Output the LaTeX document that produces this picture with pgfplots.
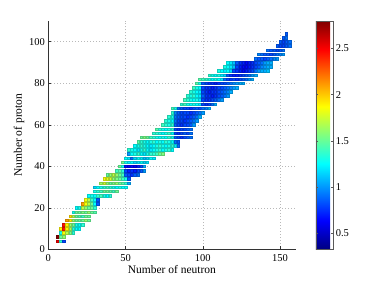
\documentclass[border=0pt]{standalone}
\usepackage{fontspec}
\setmainfont{Liberation Serif}
\usepackage{pgfplots}
\pgfplotsset{compat=1.18}
\begin{document}
\begin{tikzpicture}
\path[use as bounding box] (-48.3pt,-31.7pt) rectangle (325.7pt,249.3pt);
\begin{axis}[
  at={(0pt,0pt)}, anchor=south west,
  scale only axis, width=247.2pt, height=228.4pt,
  xmin=0, xmax=160, ymin=0, ymax=110,
  xtick={0,50,100,150}, ytick={0,20,40,60,80,100},
  axis x line*=bottom, axis y line*=left,
  axis line style={black!80, line width=0.5pt},
  tick align=inside, major tick length=3pt,
  tick style={black!80, line width=0.4pt},
  grid=major,
  grid style={gray!55, line width=0.4pt, dash pattern=on 0.8pt off 2.2pt},
  /pgf/number format/assume math mode=true,
  tick label style={font=\fontsize{10.5}{12}\selectfont},
  xticklabel style={yshift=-1.5pt},
  label style={font=\fontsize{11.5}{13}\selectfont},
  xlabel={Number of neutron}, ylabel={Number of proton},
  xlabel style={at={(axis description cs:0.5,-0.089)}, anchor=center},
  ylabel style={at={(axis description cs:-0.118,0.5)}, anchor=center, rotate=0},
  colormap/jet,
  point meta min=0.32, point meta max=2.8,
  colorbar,
  colorbar style={
    at={(parent axis.north east)}, anchor=north west, xshift=11.8pt,
    scale only axis, width=17.4pt, height=228.4pt,
    ytick={0.5,1,1.5,2,2.5},
    ytick pos=both, yticklabel pos=right,
    tick align=inside, major tick length=2.5pt,
    axis line style={black!65, line width=0.5pt},
    tick style={black!65},
    /pgf/number format/assume math mode=true,
    yticklabel style={font=\fontsize{10.5}{12}\selectfont, xshift=-1pt},
  },
]
\addplot[scatter, only marks, mark=square*, mark size=1.3pt,
  mark options={line width=0.1pt},
  point meta=explicit] coordinates {
(6,4)[2.55] (8,4)[1.35] (10,4)[0.8]
(6,6)[2.8] (8,6)[1.5] (10,6)[1.6]
(8,8)[1.3] (10,8)[1.85] (12,8)[1.7] (14,8)[1.55] (16,8)[1.35]
(8,10)[1.9] (10,10)[2.45] (12,10)[1.9] (14,10)[1.65] (16,10)[1.35] (18,10)[1.25] (20,10)[1.25]
(10,12)[2.45] (12,12)[1.9] (14,12)[1.6] (16,12)[1.5] (18,12)[1.3] (20,12)[1.25] (22,12)[1.35]
(12,14)[2.1] (14,14)[1.9] (16,14)[1.6] (18,14)[1.5] (20,14)[1.5] (22,14)[1.5] (24,14)[1.6] (26,14)[1.5]
(14,16)[1.95] (16,16)[1.65] (18,16)[1.5] (20,16)[1.45] (22,16)[1.4] (24,16)[1.5] (26,16)[1.5]
(16,18)[1.3] (18,18)[1.5] (20,18)[1.5] (22,18)[1.55] (24,18)[1.5] (26,18)[1.6] (28,18)[1.5] (30,18)[1.45]
(18,20)[1.25] (20,20)[1.3] (22,20)[1.7] (24,20)[1.6] (26,20)[1.5] (28,20)[1.5] (30,20)[1.35]
(22,22)[2.1] (24,22)[1.85] (26,22)[1.7] (28,22)[1.5] (30,22)[1.25] (32,22)[0.85]
(24,24)[1.85] (26,24)[1.7] (28,24)[1.4] (30,24)[1.25] (32,24)[0.85]
(26,26)[1.25] (28,26)[1.3] (30,26)[1.25] (32,26)[1.35] (34,26)[1.4] (36,26)[1.3] (38,26)[1.25] (40,26)[1.35]
(30,28)[1.3] (32,28)[1.35] (34,28)[1.4] (36,28)[1.5] (38,28)[1.5] (40,28)[1.45] (42,28)[1.4] (44,28)[1.5]
(30,30)[1.15] (32,30)[1.25] (34,30)[1.3] (36,30)[1.35] (38,30)[1.4] (40,30)[1.35] (42,30)[1.3] (44,30)[1.25] (46,30)[1.3] (48,30)[1.25] (50,30)[1.25]
(34,32)[1.65] (36,32)[1.75] (38,32)[1.6] (40,32)[1.5] (42,32)[1.55] (44,32)[1.6] (46,32)[1.5] (48,32)[1.45] (50,32)[1.35] (52,32)[1.05]
(36,34)[1.85] (38,34)[1.8] (40,34)[1.75] (42,34)[1.6] (44,34)[1.55] (46,34)[1.5] (48,34)[1.4] (50,34)[1.3] (52,34)[0.85]
(38,36)[1.5] (40,36)[1.6] (42,36)[1.7] (44,36)[1.6] (46,36)[1.5] (48,36)[1.4] (50,36)[0.85] (52,36)[0.8] (54,36)[0.75] (56,36)[0.85] (58,36)[0.9]
(44,38)[1.4] (46,38)[1.45] (48,38)[1.35] (50,38)[0.8] (52,38)[0.7] (54,38)[0.75] (56,38)[0.7] (58,38)[0.8] (60,38)[0.85] (62,38)[1.0]
(46,40)[1.5] (48,40)[1.3] (50,40)[0.65] (52,40)[0.6] (54,40)[0.65] (56,40)[0.6] (58,40)[0.7] (60,40)[0.8] (62,40)[1.05]
(48,42)[1.5] (50,42)[1.3] (52,42)[1.2] (54,42)[1.25] (56,42)[1.15] (58,42)[1.2] (60,42)[1.25] (62,42)[1.15] (64,42)[1.2]
(50,44)[1.25] (52,44)[1.2] (54,44)[0.9] (56,44)[1.15] (58,44)[1.25] (60,44)[1.2] (62,44)[1.1] (64,44)[1.15] (66,44)[1.25] (68,44)[1.2]
(52,46)[1.0] (54,46)[1.25] (56,46)[1.3] (58,46)[1.35] (60,46)[1.25] (62,46)[1.2] (64,46)[1.3] (66,46)[1.35] (68,46)[1.35] (70,46)[1.4] (72,46)[1.5] (74,46)[1.55]
(52,48)[1.35] (54,48)[1.3] (56,48)[1.25] (58,48)[1.2] (60,48)[1.3] (62,48)[1.35] (64,48)[1.25] (66,48)[1.2] (68,48)[1.25] (70,48)[1.3] (72,48)[1.35] (74,48)[1.25] (76,48)[1.3] (78,48)[1.35] (80,48)[1.25]
(56,50)[1.25] (58,50)[1.3] (60,50)[1.35] (62,50)[1.3] (64,50)[1.25] (66,50)[1.2] (68,50)[1.25] (70,50)[1.3] (72,50)[1.35] (74,50)[1.3] (76,50)[1.25] (78,50)[1.3] (80,50)[1.35] (82,50)[1.2] (84,50)[0.9]
(58,52)[1.45] (60,52)[1.35] (62,52)[1.3] (64,52)[1.25] (66,52)[1.3] (68,52)[1.35] (70,52)[1.25] (72,52)[1.3] (74,52)[1.25] (76,52)[1.35] (78,52)[1.3] (80,52)[1.25] (82,52)[0.9] (84,52)[0.85]
(60,54)[1.5] (62,54)[1.55] (64,54)[1.5] (66,54)[1.4] (68,54)[1.35] (70,54)[1.3] (72,54)[1.25] (74,54)[1.3] (76,54)[1.25] (78,54)[1.35] (80,54)[1.3] (82,54)[0.85] (84,54)[0.8] (86,54)[0.75] (88,54)[0.8] (90,54)[0.85] (92,54)[0.9]
(68,56)[1.35] (70,56)[1.35] (72,56)[1.3] (74,56)[1.25] (76,56)[1.3] (78,56)[1.35] (80,56)[1.25] (82,56)[0.8] (84,56)[0.75] (86,56)[0.8] (88,56)[0.85] (90,56)[0.8] (92,56)[0.9]
(70,58)[1.45] (72,58)[1.35] (74,58)[1.3] (76,58)[1.25] (78,58)[1.3] (80,58)[1.35] (82,58)[0.8] (84,58)[0.75] (86,58)[0.8] (88,58)[0.8] (90,58)[0.85] (92,58)[0.9]
(74,60)[1.4] (76,60)[1.35] (78,60)[1.3] (80,60)[1.35] (82,60)[0.85] (84,60)[0.8] (86,60)[0.75] (88,60)[0.8] (90,60)[0.8] (92,60)[0.85] (94,60)[1.0]
(76,62)[1.35] (78,62)[1.3] (80,62)[1.25] (82,62)[0.9] (84,62)[0.8] (86,62)[0.8] (88,62)[0.75] (90,62)[0.8] (92,62)[0.85] (94,62)[0.9] (96,62)[1.0]
(78,64)[1.35] (80,64)[1.3] (82,64)[0.9] (84,64)[0.85] (86,64)[0.8] (88,64)[0.8] (90,64)[0.75] (92,64)[0.8] (94,64)[0.85] (96,64)[0.9] (98,64)[1.05]
(80,66)[1.35] (82,66)[0.95] (84,66)[0.85] (86,66)[0.8] (88,66)[0.8] (90,66)[0.8] (92,66)[0.75] (94,66)[0.8] (96,66)[0.85] (98,66)[0.9] (100,66)[1.0]
(80,68)[1.4] (82,68)[1.3] (84,68)[0.9] (86,68)[0.85] (88,68)[0.8] (90,68)[0.8] (92,68)[0.75] (94,68)[0.8] (96,68)[0.85] (98,68)[0.8] (100,68)[0.9] (102,68)[0.95] (104,68)[1.05]
(86,70)[1.35] (88,70)[1.4] (90,70)[1.3] (92,70)[1.25] (94,70)[1.3] (96,70)[1.25] (98,70)[1.2] (100,70)[0.8] (102,70)[0.75] (104,70)[0.8] (106,70)[0.9] (108,70)[1.05]
(88,72)[1.4] (90,72)[1.35] (92,72)[1.3] (94,72)[1.25] (96,72)[1.3] (98,72)[1.2] (100,72)[0.8] (102,72)[0.75] (104,72)[0.75] (106,72)[0.8] (108,72)[0.85] (110,72)[0.9] (112,72)[1.0]
(90,74)[1.35] (92,74)[1.3] (94,74)[1.35] (96,74)[1.25] (98,74)[1.2] (100,74)[0.85] (102,74)[0.75] (104,74)[0.75] (106,74)[0.7] (108,74)[0.75] (110,74)[0.8] (112,74)[0.85] (114,74)[0.9] (116,74)[1.0]
(92,76)[1.35] (94,76)[1.3] (96,76)[1.25] (98,76)[1.2] (100,76)[0.8] (102,76)[0.75] (104,76)[0.7] (106,76)[0.75] (108,76)[0.75] (110,76)[0.8] (112,76)[0.85] (114,76)[0.9] (116,76)[0.95] (118,76)[1.05]
(94,78)[1.4] (96,78)[1.3] (98,78)[1.25] (100,78)[0.8] (102,78)[0.75] (104,78)[0.75] (106,78)[0.7] (108,78)[0.75] (110,78)[0.8] (112,78)[0.8] (114,78)[0.85] (116,78)[0.9] (118,78)[0.95] (120,78)[1.0] (122,78)[1.05]
(96,80)[1.45] (98,80)[1.3] (100,80)[0.85] (102,80)[0.8] (104,80)[0.75] (106,80)[0.75] (108,80)[0.7] (110,80)[0.75] (112,80)[0.8] (114,80)[0.8] (116,80)[0.85] (118,80)[0.9] (120,80)[0.95] (122,80)[1.0] (124,80)[1.05] (126,80)[1.05]
(98,82)[1.45] (100,82)[1.4] (102,82)[1.35] (104,82)[1.3] (106,82)[1.25] (108,82)[1.3] (110,82)[1.25] (112,82)[1.2] (114,82)[0.9] (116,82)[0.8] (118,82)[0.75] (120,82)[0.8] (122,82)[0.75] (124,82)[0.8] (126,82)[0.85] (128,82)[0.9] (130,82)[1.0] (132,82)[1.05]
(104,84)[1.35] (106,84)[1.3] (108,84)[1.25] (110,84)[1.3] (112,84)[1.2] (114,84)[1.15] (116,84)[0.85] (118,84)[0.75] (120,84)[0.7] (122,84)[0.7] (124,84)[0.75] (126,84)[0.8] (128,84)[0.85] (130,84)[0.9] (132,84)[1.0] (134,84)[1.05]
(110,86)[1.3] (112,86)[1.25] (114,86)[1.2] (116,86)[1.25] (118,86)[1.15] (120,86)[0.8] (122,86)[0.75] (124,86)[0.7] (126,86)[0.65] (128,86)[0.7] (130,86)[0.75] (132,86)[0.8] (134,86)[0.9] (136,86)[1.0] (138,86)[1.05] (140,86)[1.05] (142,86)[1.1]
(114,88)[1.3] (116,88)[1.25] (118,88)[1.2] (120,88)[1.1] (122,88)[0.8] (124,88)[0.7] (126,88)[0.65] (128,88)[0.65] (130,88)[0.7] (132,88)[0.75] (134,88)[0.8] (136,88)[0.85] (138,88)[0.95] (140,88)[1.0] (142,88)[1.05] (144,88)[1.05]
(116,90)[1.25] (118,90)[1.2] (120,90)[1.1] (122,90)[0.85] (124,90)[0.75] (126,90)[0.7] (128,90)[0.65] (130,90)[0.7] (132,90)[0.75] (134,90)[0.8] (136,90)[0.85] (138,90)[0.9] (140,90)[1.0] (142,90)[1.05] (144,90)[1.05]
(134,92)[0.9] (136,92)[0.85] (138,92)[0.85] (140,92)[0.8] (142,92)[0.85] (144,92)[0.9] (146,92)[0.95] (148,92)[1.0]
(136,94)[0.95] (138,94)[0.9] (140,94)[0.85] (142,94)[0.85] (144,94)[0.8] (146,94)[0.85] (148,94)[0.9] (150,94)[0.95] (152,94)[1.0]
(142,96)[0.9] (144,96)[0.85] (146,96)[0.85] (148,96)[0.8] (150,96)[0.85] (152,96)[0.9]
(148,98)[0.85] (150,98)[0.8] (152,98)[0.8] (154,98)[0.85] (156,98)[0.9]
(150,100)[0.85] (152,100)[0.8] (154,100)[0.85] (156,100)[0.9]
(152,102)[0.85] (154,102)[0.9]
(154,104)[0.85]
};
\end{axis}
\end{tikzpicture}
\end{document}
